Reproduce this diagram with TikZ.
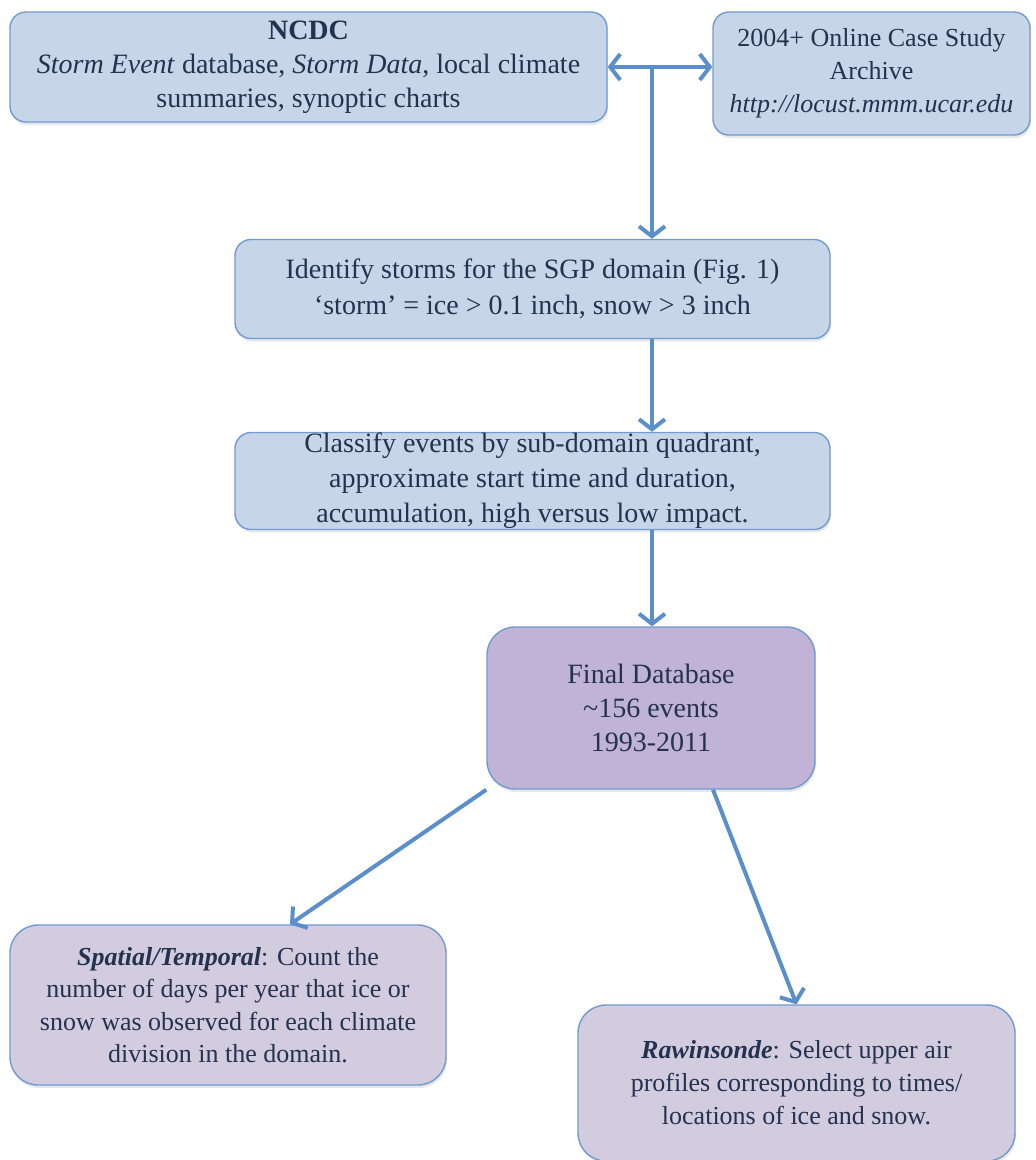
\documentclass[tikz,border=0pt]{standalone}
\usepackage{fontspec}
\setmainfont{Liberation Serif}
\usetikzlibrary{calc,arrows.meta,shadows}

\definecolor{boxblue}{HTML}{C6D5E7}
\definecolor{edgeblue}{HTML}{6F9BD0}
\definecolor{arrowblue}{HTML}{5B8FCB}
\definecolor{dbpurple}{HTML}{C1B3D6}
\definecolor{outpurple}{HTML}{D3CCDF}
\definecolor{inkblue}{HTML}{23324F}

\begin{document}
\begin{tikzpicture}[x=1pt,y=-1pt]

% ---------- parameters ----------
\def\fsTop{28}
\def\fsArc{26}
\def\fsMid{28}
\def\fsLow{26}

% ---------- styles ----------
\tikzset{
  box/.style ={draw=edgeblue,line width=1.4pt,fill=boxblue,rounded corners=16pt,
               align=center,text=inkblue,inner sep=0pt,
               drop shadow={shadow xshift=1pt,shadow yshift=-3pt,opacity=0.18}},
  dbbox/.style ={box,fill=dbpurple,rounded corners=28pt},
  outbox/.style={box,fill=outpurple,rounded corners=28pt},
  link/.style={draw=arrowblue,line width=4pt,-{Straight Barb[length=10pt,width=26pt]}}
}

\useasboundingbox (0,0) rectangle (1036,1160);

% ---------- sources ----------
\node[box,minimum width=597pt,minimum height=110pt,
      font=\fontsize{\fsTop}{34}\selectfont] (ncdc) at (308.5,67)
  {\textbf{NCDC}\\ \textit{Storm Event} database, \textit{Storm Data}, local climate\\ summaries, synoptic charts};
\node[box,minimum width=317pt,minimum height=123pt,
      font=\fontsize{\fsArc}{33}\selectfont] (archive) at (871.5,73.5)
  {2004+ Online Case Study\\ Archive\\ \textit{http://locust.mmm.ucar.edu}};

% ---------- processing ----------
\node[box,minimum width=595pt,minimum height=99pt,
      font=\fontsize{\fsMid}{36}\selectfont] (identify) at (532.5,289)
  {Identify storms for the SGP domain (Fig. 1)\\ ‘storm’ = ice > 0.1 inch, snow > 3 inch};
\node[box,minimum width=595pt,minimum height=97pt,
      font=\fontsize{\fsMid}{35}\selectfont] (classify) at (532.5,481)
  {Classify events by sub-domain quadrant,\\ approximate start time and duration,\\ accumulation, high versus low impact.};

% ---------- database ----------
\node[dbbox,minimum width=328pt,minimum height=162pt,
      font=\fontsize{\fsMid}{34}\selectfont] (final) at (651,708)
  {Final Database\\ \textasciitilde156 events\\ 1993-2011};

% ---------- analyses ----------
\node[outbox,minimum width=436pt,minimum height=160pt,
      font=\fontsize{\fsLow}{32.5}\selectfont] (spatial) at (228,1005)
  {\textbf{\textit{Spatial/Temporal}}: Count the\\ number of days per year that ice or\\ snow was observed for each climate\\ division in the domain.};
\node[outbox,minimum width=437pt,minimum height=156pt,
      font=\fontsize{\fsLow}{33}\selectfont] (rawin) at (796.5,1083)
  {\textbf{\textit{Rawinsonde}}: Select upper air\\ profiles corresponding to times/\\ locations of ice and snow.};

% ---------- connectors ----------
\coordinate (junc) at (652,67);
\draw[link,{Straight Barb[length=10pt,width=26pt]}-{Straight Barb[length=10pt,width=26pt]}]
  (ncdc.east) -- (ncdc.east -| archive.west);
\draw[link] (junc) -- (junc |- identify.north);
\draw[link] (junc |- identify.south) -- (junc |- classify.north);
\draw[link] (junc |- classify.south) -- (junc |- final.north);
\draw[link] (final.south west) -- ($(spatial.north)+(62,0)$);
\draw[link] ($(final.south)+(62,0)$) -- (rawin.north);

\end{tikzpicture}
\end{document}
